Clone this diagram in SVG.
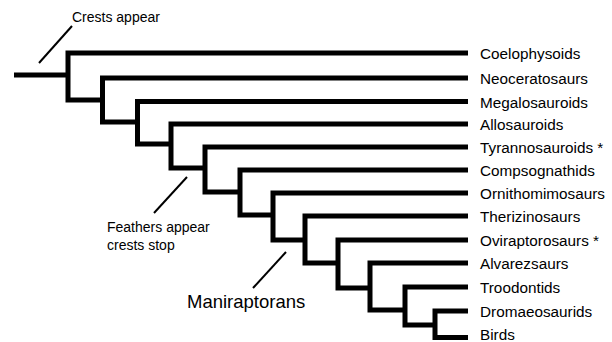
<svg xmlns="http://www.w3.org/2000/svg" width="612" height="342" viewBox="0 0 612 342">
  <style>
    .branch { fill: none; stroke: #000; stroke-width: 5; stroke-linejoin: miter; stroke-linecap: butt; }
    .leader { stroke: #000; stroke-width: 2; }
    .taxon { font-family: "Liberation Sans", Arial, sans-serif; font-size: 15.3px; fill: #000; }
    .note { font-family: "Liberation Sans", Arial, sans-serif; font-size: 14px; fill: #000; }
    .clade { font-family: "Liberation Sans", Arial, sans-serif; font-size: 18.5px; fill: #000; }
  </style>
  <rect width="612" height="342" fill="#fff"/>

  <!-- tree branches -->
  <g id="connectors">
    <path class="branch" d="M14,75 H68"/>
    <path class="branch" d="M468,53 H68 V100 H102.5"/>
    <path class="branch" d="M468,78 H102.5 V122 H137.5"/>
    <path class="branch" d="M468,101.5 H137.5 V144 H171"/>
    <path class="branch" d="M468,124 H171 V168 H205"/>
    <path class="branch" d="M468,147 H205 V192 H240"/>
    <path class="branch" d="M468,170 H240 V215 H273"/>
    <path class="branch" d="M468,193 H273 V240 H305"/>
    <path class="branch" d="M468,216 H305 V263 H338"/>
    <path class="branch" d="M468,240 H338 V288 H370"/>
    <path class="branch" d="M468,263 H370 V310 H405"/>
    <path class="branch" d="M468,287 H405 V325 H435"/>
    <path class="branch" d="M468,311 H435 V337.5 H468"/>
  </g>

  <!-- taxa -->
  <g id="coelophysoids"><text class="taxon" x="480" y="59">Coelophysoids</text></g>
  <g id="neoceratosaurs"><text class="taxon" x="480" y="84">Neoceratosaurs</text></g>
  <g id="megalosauroids"><text class="taxon" x="480" y="107.5">Megalosauroids</text></g>
  <g id="allosauroids"><text class="taxon" x="480" y="130">Allosauroids</text></g>
  <g id="tyrannosauroids"><text class="taxon" x="480" y="153">Tyrannosauroids *</text></g>
  <g id="compsognathids"><text class="taxon" x="480" y="176">Compsognathids</text></g>
  <g id="ornithomimosaurs"><text class="taxon" x="480" y="199">Ornithomimosaurs</text></g>
  <g id="therizinosaurs"><text class="taxon" x="480" y="222">Therizinosaurs</text></g>
  <g id="oviraptorosaurs"><text class="taxon" x="480" y="246">Oviraptorosaurs *</text></g>
  <g id="alvarezsaurs"><text class="taxon" x="480" y="269">Alvarezsaurs</text></g>
  <g id="troodontids"><text class="taxon" x="480" y="293">Troodontids</text></g>
  <g id="dromaeosaurids"><text class="taxon" x="480" y="317">Dromaeosaurids</text></g>
  <g id="birds"><text class="taxon" x="480" y="340">Birds</text></g>

  <!-- annotations -->
  <g id="crests-appear">
    <line class="leader" x1="39" y1="63" x2="72" y2="26"/>
    <text class="note" x="72" y="21.5">Crests appear</text>
  </g>
  <g id="feathers-appear">
    <line class="leader" x1="154" y1="213" x2="187" y2="177"/>
    <text class="note" x="107" y="232">Feathers appear</text>
    <text class="note" x="107" y="250">crests stop</text>
  </g>
  <g id="maniraptorans">
    <line class="leader" x1="253" y1="288" x2="286" y2="252"/>
    <text class="clade" x="187" y="308">Maniraptorans</text>
  </g>
</svg>
